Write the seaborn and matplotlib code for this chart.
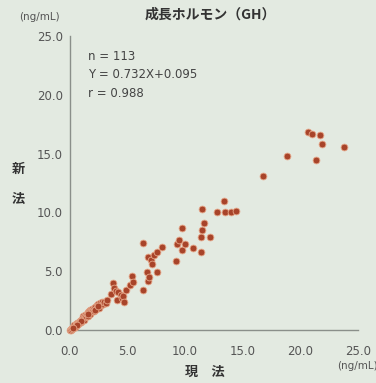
import matplotlib
matplotlib.use("Agg")
import matplotlib.pyplot as plt
import seaborn as sns
import pandas as pd

# Data (現法 = current method, 新法 = new method)
current_method = [
    0.0, 0.05, 0.1, 0.15, 0.2, 0.25, 0.3, 0.35, 0.4, 0.45, 0.5, 0.55, 0.6, 0.65, 0.7,
    0.75, 0.8, 0.85, 0.9, 0.95, 1.0, 1.05, 1.1, 1.15, 1.2, 1.25, 1.3, 1.35, 1.4, 1.45,
    1.5, 1.55, 1.6, 1.65, 1.7, 1.75, 1.8, 1.85, 1.9, 1.95, 2.0, 2.05, 2.1, 2.2, 2.3,
    2.35, 2.4, 2.5, 2.6, 2.7, 2.8, 2.9, 3.0, 3.1, 2.15, 1.0, 0.6, 0.3, 1.6, 2.45,
    3.2, 3.6, 3.7, 3.8, 4.0, 4.1, 4.2, 4.4, 4.5, 4.6, 4.7, 4.9, 5.2, 5.4, 5.5,
    6.3, 6.3, 6.7, 6.8, 6.8, 6.9, 7.0, 7.1, 7.3, 7.6, 7.6, 8.0,
    9.2, 9.3, 9.5, 9.7, 9.7, 10.0, 10.7, 11.4, 11.4, 11.5, 11.6, 11.5, 12.2,
    12.8, 13.4, 13.5, 14.0, 14.4,
    16.8, 18.8, 20.7, 21.0, 21.4, 21.7, 21.9, 23.8,
]
new_method = [
    0.0, 0.1, 0.05, 0.2, 0.1, 0.3, 0.2, 0.4, 0.3, 0.25, 0.5, 0.4, 0.6, 0.5, 0.5,
    0.7, 0.6, 0.75, 0.8, 0.7, 0.9, 0.85, 1.0, 1.2, 0.9, 1.1, 1.1, 1.3, 1.2, 1.35,
    1.4, 1.2, 1.5, 1.6, 1.7, 1.4, 1.6, 1.75, 1.8, 1.6, 1.7, 1.9, 1.6, 2.0, 1.8,
    2.1, 2.2, 1.9, 2.3, 2.1, 2.4, 2.2, 2.4, 2.3, 1.75, 0.75, 0.45, 0.15, 1.35, 2.05,
    2.6, 3.1, 4.0, 3.6, 3.3, 2.6, 3.2, 3.0, 2.7, 2.9, 2.4, 3.4, 3.8, 4.6, 4.1,
    3.4, 7.4, 4.9, 4.2, 6.2, 4.5, 6.0, 5.6, 6.4, 6.6, 4.9, 7.1,
    5.9, 7.3, 7.7, 8.7, 6.8, 7.3, 7.0, 6.6, 7.9, 8.5, 9.1, 10.3, 7.9,
    10.0, 11.0, 10.0, 10.0, 10.1,
    13.1, 14.8, 16.8, 16.7, 14.5, 16.6, 15.8, 15.6,
]
x_ticks = [0.0, 5.0, 10.0, 15.0, 20.0, 25.0]
y_ticks = [0.0, 5.0, 10.0, 15.0, 20.0, 25.0]
tick_labels = ["0.0", "5.0", "10.0", "15.0", "20.0", "25.0"]
title = "成長ホルモン（GH）"
stats_lines = ["n = 113", "Y = 0.732X+0.095", "r = 0.988"]

df = pd.DataFrame({"現法": current_method, "新法": new_method})

bg = "#e3eae1"
sns.set_theme(style="white")
plt.rcParams["font.family"] = ["DejaVu Sans", "Noto Sans CJK JP"]

fig = plt.figure(figsize=(3.76, 3.83), dpi=100, facecolor=bg)
ax = fig.add_axes([0.186, 0.138, 0.766, 0.768])
ax.set_facecolor(bg)

sns.scatterplot(data=df, x="現法", y="新法", ax=ax, s=24, color="#a8442a",
                edgecolor="#e6a789", linewidth=0.6, clip_on=False, zorder=3)

ax.set_xlim(0, 25)
ax.set_ylim(0, 25)
ax.set_xticks(x_ticks)
ax.set_yticks(y_ticks)
ax.set_xticklabels(tick_labels)
ax.set_yticklabels(tick_labels)
ax.set_xlabel("")
ax.set_ylabel("")

for s in ["top", "right"]:
    ax.spines[s].set_visible(False)
for s in ["left", "bottom"]:
    ax.spines[s].set_color("#8a8f8a")
    ax.spines[s].set_linewidth(1.0)

ax.tick_params(axis="x", direction="in", length=4, width=1, color="#6a6f6a",
               labelsize=8.5, labelcolor="#555555", pad=11)
ax.tick_params(axis="y", direction="out", length=4, width=1, color="#6a6f6a",
               labelsize=8.5, labelcolor="#555555", pad=1)

cjk = ["Noto Sans CJK JP", "DejaVu Sans"]
fig.text(0.56, 0.962, title, ha="center", va="center", fontsize=10,
         fontweight="bold", color="#333333", family=cjk)
fig.text(0.105, 0.955, "(ng/mL)", ha="center", va="center", fontsize=7.5, color="#555555")
fig.text(0.95, 0.045, "(ng/mL)", ha="center", va="center", fontsize=7.5, color="#555555")
fig.text(0.048, 0.56, "新", ha="center", va="center", fontsize=9.5,
         fontweight="bold", color="#333333", family=cjk)
fig.text(0.048, 0.48, "法", ha="center", va="center", fontsize=9.5,
         fontweight="bold", color="#333333", family=cjk)
fig.text(0.545, 0.028, "現　法", ha="center", va="center", fontsize=9.5,
         fontweight="bold", color="#333333", family=cjk)

for i, line in enumerate(stats_lines):
    fig.text(0.235, 0.853 - i * 0.048, line, ha="left", va="center",
             fontsize=8.5, color="#444444")

fig.savefig("out.png", dpi=100, facecolor=bg)
